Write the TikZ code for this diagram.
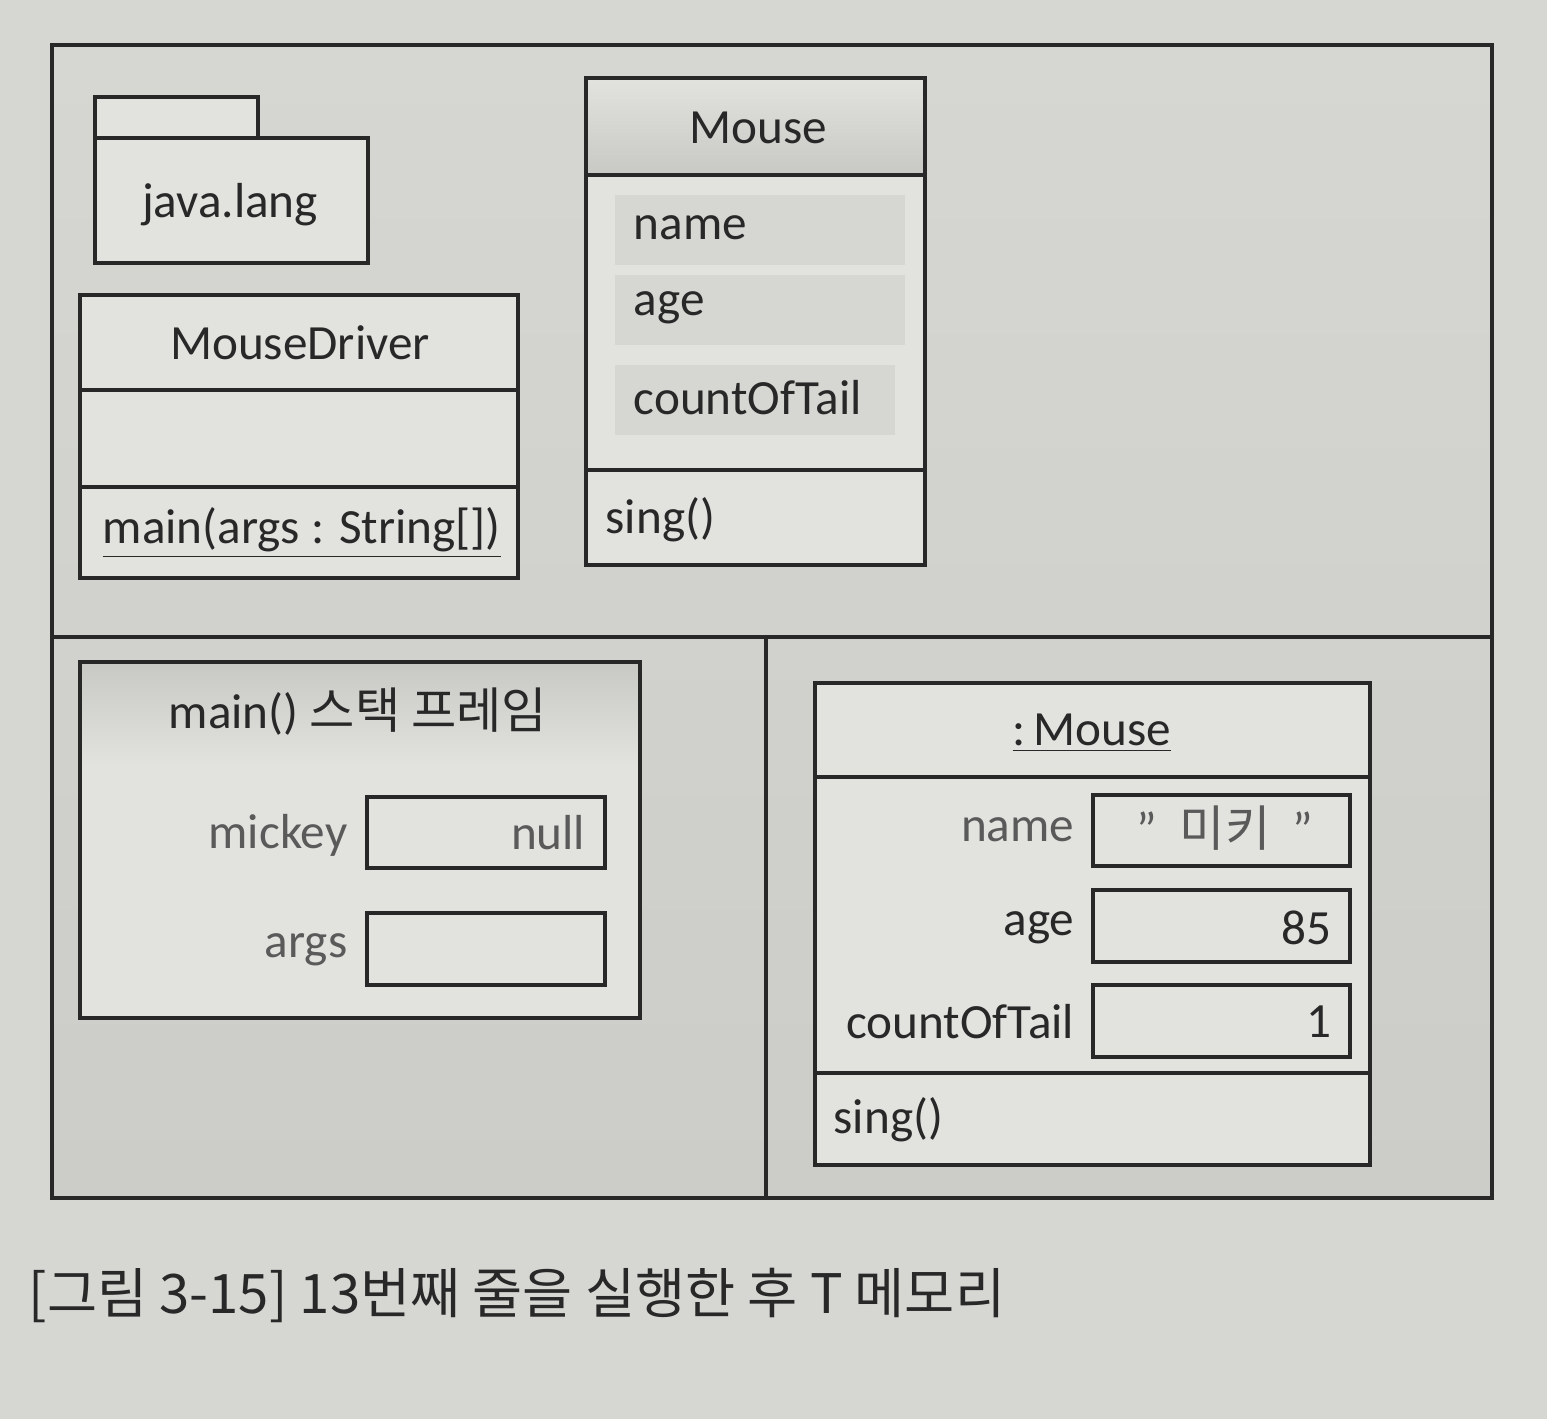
\documentclass[tikz,border=0pt]{standalone}
\usepackage{xcolor}
\usepackage{fontspec}
\setmainfont{Carlito}
\newfontfamily\kr{Noto Sans CJK KR}
\usepackage{tikz}
\usetikzlibrary{positioning}

\definecolor{pagebg}{RGB}{214,214,211}
\definecolor{panelbg}{RGB}{204,204,201}
\definecolor{boxbg}{RGB}{226,226,223}
\definecolor{headbg}{RGB}{200,200,197}
\definecolor{slotbg}{RGB}{214,214,211}
\definecolor{ink}{RGB}{40,40,40}
\definecolor{softink}{RGB}{90,90,90}

\tikzset{
  frame/.style={draw=ink, line width=1.3pt},
  box/.style={draw=ink, line width=1pt},
  lbl/.style={text=ink, inner sep=0pt, font=\fontsize{14}{16}\selectfont},
  softlbl/.style={lbl, text=softink},
  valbox/.style={box, fill=boxbg}
}

\begin{document}
\begin{tikzpicture}[x=1cm,y=-1cm]
\useasboundingbox (0,0) rectangle (15.47,14.19);
\fill [pagebg] (0,0) rectangle (15.47,14.19);

% memory frame
\fill [top color=pagebg, bottom color=panelbg] (0.52,0.45) rectangle (14.92,11.98);
\draw [frame] (0.52,0.45) rectangle (14.92,11.98);
\draw [frame] (0.52,6.37) -- (14.92,6.37);
\draw [frame] (7.66,6.37) -- (7.66,11.98);

% method area: package
\draw [box, fill=boxbg] (0.95,0.97) rectangle (2.58,1.38);
\draw [box, fill=boxbg] (0.95,1.38) rectangle (3.68,2.63);
\node (pkg) at (2.30,2.05) [lbl] {java.lang};

% method area: MouseDriver
\draw [box, fill=boxbg] (0.80,2.95) rectangle (5.18,5.78);
\draw [box] (0.80,3.90) -- (5.18,3.90);
\draw [box] (0.80,4.87) -- (5.18,4.87);
\node (drv) at (3.00,3.43) [lbl] {MouseDriver};
\node (drvmain) at (1.02,5.33) [lbl, anchor=west] {\underline{main(args : String[])}};

% method area: Mouse
\draw [box, fill=boxbg] (5.86,0.78) rectangle (9.25,5.65);
\fill [top color=boxbg, bottom color=headbg] (5.86,0.78) rectangle (9.25,1.75);
\draw [box] (5.86,0.78) rectangle (9.25,5.65);
\draw [box] (5.86,1.75) -- (9.25,1.75);
\draw [box] (5.86,4.70) -- (9.25,4.70);
\fill [slotbg] (6.15,1.95) rectangle (9.05,2.65);
\fill [slotbg] (6.15,2.75) rectangle (9.05,3.45);
\fill [slotbg] (6.15,3.65) rectangle (8.95,4.35);
\node (clsname) at (6.33,2.28) [lbl, anchor=west] {name};
\node (clsage) at (6.33,3.08) [lbl, anchor=west] {age};
\node (clstail) at (6.33,3.98) [lbl, anchor=west] {countOfTail};
\node (cls) at (7.58,1.28) [lbl] {Mouse};
\node (clssing) at (6.05,5.20) [lbl, anchor=west] {sing()};

% stack: main() frame
\draw [box, fill=boxbg] (0.80,6.62) rectangle (6.40,10.18);
\fill [top color=headbg, bottom color=boxbg] (0.80,6.62) rectangle (6.40,7.65);
\draw [box] (0.80,6.62) rectangle (6.40,10.18);
\node (frm) at (3.58,7.12) [lbl] {main() {\kr 스택 프레임}};
\node (mickey) at (3.48,8.35) [softlbl, anchor=east] {mickey};
\draw [valbox] (3.67,7.97) rectangle (6.05,8.68);
\node (mickeyval) at (5.86,8.33) [softlbl, anchor=east] {null};
\node (args) at (3.48,9.50) [softlbl, anchor=east] {args};
\draw [valbox] (3.67,9.13) rectangle (6.05,9.85);

% heap: Mouse object
\draw [box, fill=boxbg] (8.15,6.83) rectangle (13.70,11.65);
\draw [box] (8.15,7.77) -- (13.70,7.77);
\draw [box] (8.15,10.73) -- (13.70,10.73);
\node (obj) at (10.92,7.33) [lbl] {\underline{:\,Mouse}};
\node (objname) at (10.75,8.30) [softlbl, anchor=east] {name};
\draw [valbox] (10.93,7.95) rectangle (13.50,8.66);
\node (objnameval) at (12.25,8.28) [softlbl] {\char"22\ \ {\kr 미키}\ \ \char"22};
\node (objage) at (10.75,9.28) [lbl, anchor=east] {age};
\draw [valbox] (10.93,8.90) rectangle (13.50,9.62);
\node (objageval) at (13.32,9.28) [lbl, anchor=east] {85};
\node (objtail) at (10.75,10.22) [lbl, anchor=east] {countOfTail};
\draw [valbox] (10.93,9.85) rectangle (13.50,10.57);
\node (objtailval) at (13.32,10.22) [lbl, anchor=east] {1};
\node (objsing) at (8.33,11.20) [lbl, anchor=west] {sing()};

% caption
\node (cap) at (0.28,12.95) [anchor=west, inner sep=0pt, text=ink, font=\kr\fontsize{15.5}{18}\selectfont] {[그림 3-15] 13번째 줄을 실행한 후 T 메모리};
\end{tikzpicture}
\end{document}
